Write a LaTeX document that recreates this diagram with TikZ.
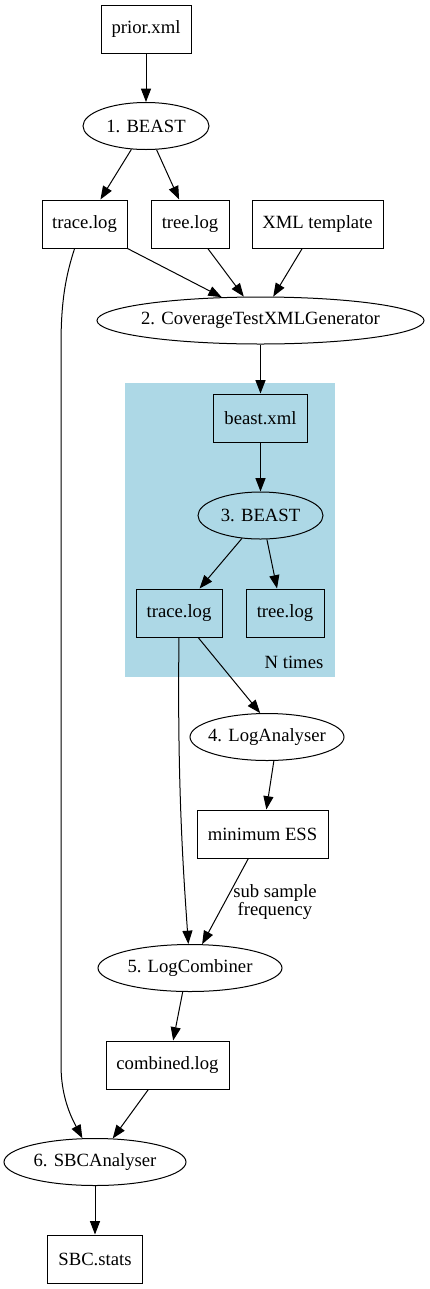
\documentclass[tikz,border=0pt]{standalone}
\usepackage{fontspec}
\setmainfont{Liberation Serif}
\usetikzlibrary{shapes.geometric,arrows.meta,calc}
\definecolor{lightblue}{HTML}{ADD8E6}
\begin{document}
\begin{tikzpicture}[x=0.75pt,y=-0.75pt,
  font=\fontsize{14}{13}\selectfont,
  box/.style={draw,rectangle,inner sep=0pt,line width=0.75pt,minimum height=48*0.75pt},
  ell/.style={draw,ellipse,inner sep=0pt,line width=0.75pt,minimum height=47*0.75pt},
  edge/.style={-{Triangle[length=10pt,width=7.5pt]},line width=0.75pt}
]
\useasboundingbox (0,0) rectangle (429,1289);
\node[fill=lightblue,inner sep=0pt,minimum width=210*0.75pt,minimum height=294*0.75pt] (cluster) at (230,530) {};

\node[box,minimum width=90*0.75pt] (prior) at (146,29) {prior.xml};
\node[ell,minimum width=126*0.75pt] (beast1) at (146,126) {\makebox[0pt]{1. BEAST}};
\node[box,minimum width=85*0.75pt] (trace1) at (84.5,224) {trace.log};
\node[box,minimum width=78*0.75pt] (tree1) at (190,224) {tree.log};
\node[box,minimum width=131*0.75pt] (xmlt) at (317.5,224) {XML template};
\node[ell,minimum width=327*0.75pt] (ctxg) at (260.5,320.5) {\makebox[0pt]{2. CoverageTestXMLGenerator}};
\node[box,minimum width=94*0.75pt] (beastxml) at (260.5,418) {beast.xml};
\node[ell,minimum width=125*0.75pt] (beast3) at (260.5,515.5) {\makebox[0pt]{3. BEAST}};
\node[box,minimum width=86*0.75pt] (trace2) at (179,613) {trace.log};
\node[box,minimum width=78*0.75pt] (tree2) at (285,613) {tree.log};
\node (ntimes) at (294,662) {N times};
\node[ell,minimum width=154*0.75pt] (loga) at (267,737) {\makebox[0pt]{4. LogAnalyser}};
\node[box,minimum width=131*0.75pt] (miness) at (262.5,834) {minimum ESS};
\node[align=center,inner sep=0pt] (lab) at (275,902) {sub sample\\frequency};
\node[ell,minimum width=184*0.75pt] (logc) at (190,968) {\makebox[0pt]{5. LogCombiner}};
\node[box,minimum width=123*0.75pt] (comb) at (167.5,1065) {combined.log};
\node[ell,minimum width=182*0.75pt] (sbc) at (95,1162) {\makebox[0pt]{6. SBCAnalyser}};
\node[box,minimum width=95*0.75pt] (stats) at (95,1259) {SBC.stats};

\draw[edge] (prior.south) -- (beast1.north);
\draw[edge] (beast1.238) -- (trace1.57.1);
\draw[edge] (beast1.294.6) -- (tree1.114.6);
\draw[edge] (trace1.south east) -- (ctxg.149.9);
\draw[edge] (tree1.306.9) -- (ctxg.125.1);
\draw[edge] (xmlt.238.9) -- (ctxg.62);
\draw[edge] (trace1.248.4) .. controls (66,275) and (61,300) .. (61,345)
  -- (61,1065) .. controls (61,1095) and (70,1115) .. (sbc.118.4);
\draw[edge] (ctxg.south) -- (beastxml.north);
\draw[edge] (beastxml.south) -- (beast3.north);
\draw[edge] (beast3.231.8) -- (trace2.50.2);
\draw[edge] (beast3.285.5) -- (tree2.108.4);
\draw[edge] (trace2.308.4) -- (loga.106.6);
\draw[edge] (trace2.south) .. controls (177,790) and (184,880) .. (logc.94.8);
\draw[edge] (loga.286.6) -- (miness.81.7);
\draw[edge] (miness.240.6) -- (logc.63.4);
\draw[edge] (logc.253.7) -- (comb.77.1);
\draw[edge] (comb.232.4) -- (sbc.53.1);
\draw[edge] (sbc.south) -- (stats.north);
\end{tikzpicture}
\end{document}
